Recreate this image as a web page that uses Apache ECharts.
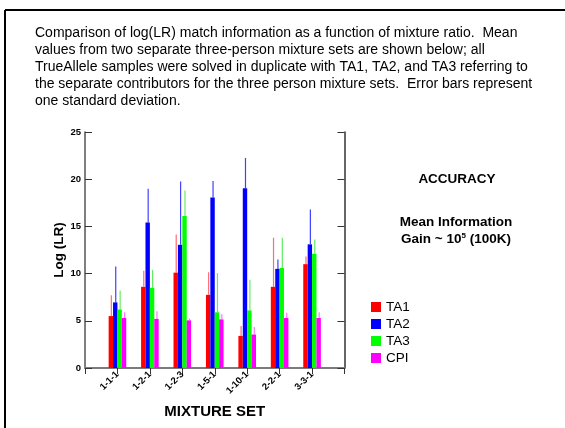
<!DOCTYPE html>
<html>
<head>
<meta charset="utf-8">
<script src="https://cdn.jsdelivr.net/npm/echarts@6/dist/echarts.min.js"></script>
<style>
  html, body { margin: 0; padding: 0; background: #fff; }
  #main { width: 565px; height: 428px; }
</style>
</head>
<body>
<div id="main"></div>
<script>
// 混合比例分组
var mixtureSets = ['1-1-1', '1-2-1', '1-2-3', '1-5-1', '1-10-1', '2-2-1', '3-3-1'];
var seriesNames = ['TA1', 'TA2', 'TA3', 'CPI'];
// 均值
var ta1 = [5.5, 8.6, 10.1, 7.75, 3.4, 8.6, 11.0];
var ta2 = [6.95, 15.4, 13.05, 18.05, 19.05, 10.5, 13.1];
var ta3 = [6.2, 8.5, 16.1, 5.9, 6.1, 10.6, 12.1];
var cpi = [5.3, 5.2, 5.05, 5.15, 3.55, 5.3, 5.3];
// 标准差（只画上半截）
var ta1Sd = [2.2, 1.7, 4.05, 2.4, 1.05, 5.2, 0.8];
var ta2Sd = [3.8, 3.6, 6.7, 1.75, 3.2, 1.0, 3.7];
var ta3Sd = [2.0, 1.9, 2.7, 4.15, 3.25, 3.2, 1.5];
var cpiSd = [0.6, 0.8, 0.2, 0.55, 0.8, 0.55, 0.6];
var yTicks = [0, 5, 10, 15, 20, 25];

var colors = ['#ff0000', '#0000ff', '#00ff00', '#ff00ff'];
var errColors = ['rgba(255,60,60,0.75)', 'rgba(30,30,255,0.85)', 'rgba(60,230,60,0.8)', 'rgba(255,70,255,0.75)'];
var means = [ta1, ta2, ta3, cpi];
var sds = [ta1Sd, ta2Sd, ta3Sd, cpiSd];
var barW = 4.4;
var FONT = '"Liberation Sans", Arial, sans-serif';

// 两端各留一个空位，刻度落在分组中心
var cats = [''].concat(mixtureSets).concat(['']);

var series = [];
for (var s = 0; s < 4; s++) {
	var d = [null];
	for (var i = 0; i < mixtureSets.length; i++) d.push(means[s][i]);
	d.push(null);
	series.push({
		name: seriesNames[s],
		type: 'bar',
		barWidth: barW,
		barGap: '0%',
		itemStyle: { color: colors[s] },
		data: d,
		z: 2
	});
}
// 误差线
for (var s = 0; s < 4; s++) {
	var ed = [];
	for (var i = 0; i < mixtureSets.length; i++) {
		ed.push([i + 1, means[s][i], sds[s][i]]);
	}
	(function(k) {
		series.push({
			type: 'custom',
			name: seriesNames[k] + ' sd',
			data: ed,
			z: 3,
			renderItem: function(params, api) {
				var x = api.value(0);
				var v = api.value(1);
				var sd = api.value(2);
				var p0 = api.coord([x, v]);
				var p1 = api.coord([x, v + sd]);
				var off = (k - 1.5) * barW + 0.5;
				return {
					type: 'line',
					shape: { x1: p0[0] + off, y1: p0[1], x2: p1[0] + off, y2: p1[1] },
					style: { stroke: errColors[k], lineWidth: 1.2 }
				};
			}
		});
	})(s);
}

var chart = echarts.init(document.getElementById('main'));
var option = {
	animation: false,
	backgroundColor: '#fff',
	textStyle: { fontFamily: FONT },
	grid: { left: 85, top: 132, width: 259.5, height: 236 },
	legend: {
		data: seriesNames,
		orient: 'vertical',
		left: 371,
		top: 300,
		padding: 0,
		itemWidth: 10,
		itemHeight: 10,
		itemGap: 3,
		icon: 'rect',
		textStyle: { fontSize: 13.5, color: '#000', fontFamily: FONT }
	},
	xAxis: [{
		type: 'category',
		position: 'bottom',
		data: cats,
		boundaryGap: false,
		axisLine: { lineStyle: { color: '#888', width: 2 } },
		axisTick: { show: false },
		axisLabel: {
			interval: 0, rotate: 45, fontSize: 9.5, fontWeight: 'bold', color: '#000', margin: 5
		},
		name: 'MIXTURE SET',
		nameLocation: 'middle',
		nameGap: 36,
		nameTextStyle: { fontSize: 15, fontWeight: 'bold', color: '#000' }
	}, {
		type: 'category',
		position: 'top',
		data: cats,
		boundaryGap: false,
		axisLine: { lineStyle: { color: '#777', width: 1.5 } },
		axisTick: { inside: true, length: 6, interval: 0, lineStyle: { color: '#333' } },
		axisLabel: { show: false }
	}],
	yAxis: [{
		type: 'value',
		position: 'left',
		min: 0, max: 25, interval: 5,
		splitLine: { show: false },
		axisLine: { show: true, lineStyle: { color: '#555', width: 1.5 } },
		axisTick: { show: true, inside: true, length: 7, lineStyle: { color: '#333' } },
		axisLabel: { fontSize: 9.5, fontWeight: 'bold', color: '#000', margin: 4 },
		name: 'Log (LR)',
		nameLocation: 'middle',
		nameGap: 18,
		nameTextStyle: { fontSize: 13.5, fontWeight: 'bold', color: '#000' }
	}, {
		type: 'value',
		position: 'right',
		min: 0, max: 25, interval: 5,
		splitLine: { show: false },
		axisLine: { show: true, lineStyle: { color: '#333', width: 1.5 } },
		axisTick: { show: true, inside: true, length: 7, lineStyle: { color: '#333' } },
		axisLabel: { show: false }
	}],
	graphic: [
		{ type: 'line', shape: { x1: 5, y1: 10, x2: 565, y2: 10 }, style: { stroke: '#000', lineWidth: 2 } },
		{ type: 'line', shape: { x1: 5, y1: 10, x2: 5, y2: 428 }, style: { stroke: '#000', lineWidth: 2 } },
		{
			type: 'text', left: 35, top: 25,
			style: {
				text: 'Comparison of log(LR) match information as a function of mixture ratio.  Mean\n' +
					'values from two separate three-person mixture sets are shown below; all\n' +
					'TrueAllele samples were solved in duplicate with TA1, TA2, and TA3 referring to\n' +
					'the separate contributors for the three person mixture sets.  Error bars represent\n' +
					'one standard deviation.',
				font: '14px ' + FONT,
				lineHeight: 17,
				fill: '#000'
			}
		},
		{
			type: 'text', x: 457, y: 179,
			style: { text: 'ACCURACY', font: 'bold 13.5px ' + FONT, fill: '#000', align: 'center', verticalAlign: 'middle' }
		},
		{
			type: 'text', x: 456, y: 222,
			style: { text: 'Mean Information', font: 'bold 13.5px ' + FONT, fill: '#000', align: 'center', verticalAlign: 'middle' }
		},
		{
			type: 'text', x: 456, y: 239,
			style: {
				text: '{a|Gain ~ 10}{s|5}{a| (100K)}',
				align: 'center', verticalAlign: 'middle',
				rich: {
					a: { font: 'bold 13.5px ' + FONT, fill: '#000', verticalAlign: 'bottom' },
					s: { font: 'bold 8px ' + FONT, fill: '#000', verticalAlign: 'top', padding: [0, 0, 6, 0] }
				}
			}
		}
	],
	series: series
};
chart.setOption(option);
</script>
</body>
</html>
